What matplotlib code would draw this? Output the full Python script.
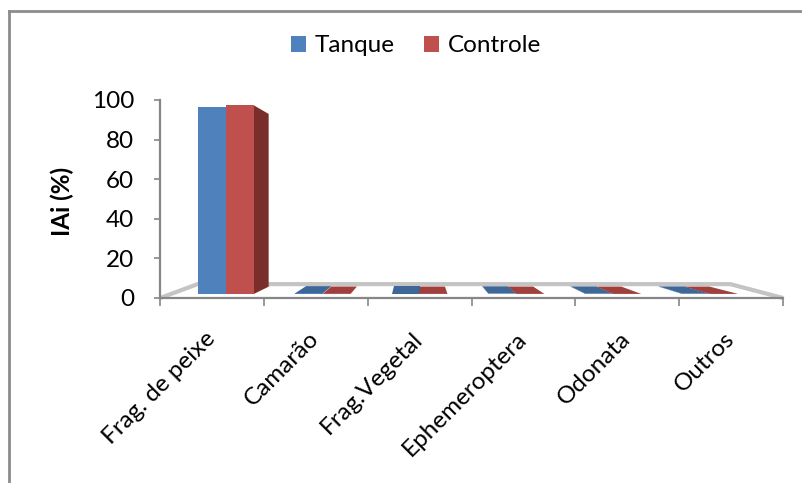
import numpy as np
import matplotlib.pyplot as plt
from matplotlib.patches import Polygon, Patch
from matplotlib.lines import Line2D

plt.rcParams['font.family'] = ['Lato', 'DejaVu Sans']

CATEGORIES = ["Frag. de peixe", "Camarão", "Frag.Vegetal", "Ephemeroptera",
              "Odonata", "Outros"]
SERIES = ["Tanque", "Controle"]
TANQUE = [99.0, 0.30, 0.20, 0.20, 0.15, 0.15]
CONTROLE = [99.7, 0.08, 0.06, 0.06, 0.05, 0.05]
Y_TICKS = [0, 20, 40, 60, 80, 100]

FONT_SIZE = 17.5

# face colours for each series: front, top, side
COLORS = {
    "Tanque": ("#4F81BD", "#3E6898", "#2F4F78"),
    "Controle": ("#C0504D", "#A03F3C", "#7A2E2C"),
}

# fake 3D: points are pulled toward a vanishing point as they go back
XV, YV = 2.0, 45.8
FLOOR_BACK = (0.145, 0.153)
BAR_FRONT = (0.067, 0.044)
BAR_BACK = (0.151, 0.125)
BAR_W = 0.288


def project(x, y, depth):
    sx, sy = depth
    return (x + (XV - x) * sx, y + (YV - y) * sy)


def face(ax, pts, color, z):
    ax.add_patch(Polygon(pts, closed=True, facecolor=color, edgecolor='none',
                         zorder=z, clip_on=False))


fig = plt.figure(figsize=(8.02, 4.83), dpi=100)
ax = fig.add_axes([160 / 802, 1 - 298 / 483, 623 / 802, 198 / 483])
ax.set_xlim(-0.5, len(CATEGORIES) - 0.5)
ax.set_ylim(0, 100)

# floor
x_lo, x_hi = -0.5, len(CATEGORIES) - 0.5
floor = [project(x_lo, 0, (0, 0)), project(x_lo, 0, FLOOR_BACK),
         project(x_hi, 0, FLOOR_BACK), project(x_hi, 0, (0, 0))]
ax.add_patch(Polygon(floor, closed=False, facecolor='white',
                     edgecolor='#C4C4C4', lw=3, zorder=1, clip_on=False))

# bars
values = {"Tanque": TANQUE, "Controle": CONTROLE}
for i in range(len(CATEGORIES)):
    for k, name in enumerate(SERIES):
        v = values[name][i]
        front_c, top_c, side_c = COLORS[name]
        x0 = i - BAR_W + k * BAR_W
        x1 = x0 + BAR_W
        # outer side faces only, inner ones are hidden by the neighbour
        if k == 1 and x1 < XV:
            face(ax, [project(x1, 0, BAR_FRONT), project(x1, v, BAR_FRONT),
                      project(x1, v, BAR_BACK), project(x1, 0, BAR_BACK)],
                 side_c, 2)
        if k == 0 and x0 > XV:
            face(ax, [project(x0, 0, BAR_FRONT), project(x0, v, BAR_FRONT),
                      project(x0, v, BAR_BACK), project(x0, 0, BAR_BACK)],
                 side_c, 2)
        if v < YV:
            face(ax, [project(x0, v, BAR_FRONT), project(x1, v, BAR_FRONT),
                      project(x1, v, BAR_BACK), project(x0, v, BAR_BACK)],
                 top_c, 3)
        face(ax, [project(x0, 0, BAR_FRONT), project(x1, 0, BAR_FRONT),
                  project(x1, v, BAR_FRONT), project(x0, v, BAR_FRONT)],
             front_c, 4)

# axes
for side in ['top', 'right']:
    ax.spines[side].set_visible(False)
for side in ['left', 'bottom']:
    ax.spines[side].set_color('#868686')
    ax.spines[side].set_linewidth(1.6)
    ax.spines[side].set_zorder(5)

ax.set_yticks(Y_TICKS)
ax.tick_params(axis='y', length=4.5, width=1.2, color='#868686', pad=14,
               labelsize=FONT_SIZE)
ax.set_xticks(np.arange(-0.5, len(CATEGORIES)), labels=[''] * (len(CATEGORIES) + 1))
ax.set_xticks(range(len(CATEGORIES)), labels=CATEGORIES, minor=True)
ax.tick_params(axis='x', which='major', length=6, width=1.2, color='#868686')
ax.tick_params(axis='x', which='minor', length=0, pad=27, labelsize=FONT_SIZE)
for lbl in ax.get_xticklabels(minor=True):
    lbl.set_rotation(45)
    lbl.set_ha('right')
    lbl.set_va('center')
    lbl.set_rotation_mode('anchor')
    lbl.set_x(lbl.get_position()[0])

fig.text(62 / 802, 1 - 201 / 483, 'IAi (%)', rotation=90, fontsize=FONT_SIZE,
         fontweight='bold', ha='center', va='center')

handles = [Patch(facecolor=COLORS[n][0]) for n in SERIES]
fig.legend(handles, SERIES, loc='center', bbox_to_anchor=(416 / 802, 1 - 46 / 483),
           ncol=2, frameon=False, fontsize=FONT_SIZE, handlelength=0.62,
           handleheight=0.62, handletextpad=0.35, columnspacing=1.2)

# chart border (top and left edges)
fig.add_artist(Line2D([9 / 802, 9 / 802], [0, 1 - 11 / 483], color='#8C8C8C', lw=2))
fig.add_artist(Line2D([9 / 802, 1], [1 - 11 / 483, 1 - 11 / 483], color='#8C8C8C', lw=2))

fig.savefig('out.png', dpi=100)
